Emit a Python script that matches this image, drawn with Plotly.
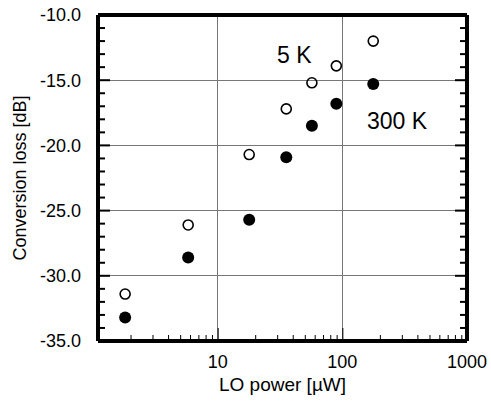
import plotly.graph_objects as go

lo_power = [1.81, 5.8, 17.9, 35.5, 57, 89.5, 177]
loss_5k = [-31.4, -26.1, -20.7, -17.2, -15.2, -13.9, -12.0]
loss_300k = [-33.2, -28.6, -25.7, -20.9, -18.5, -16.8, -15.3]
y_ticks = [-35, -30, -25, -20, -15, -10]
y_minor = [v for v in range(-34, -10) if v % 5 != 0]
x_ticks = [10, 100, 1000]
x_minor = [m * d for d in (1, 10, 100) for m in range(2, 10)]

font_family = "Liberation Sans, Arial, sans-serif"

fig = go.Figure()
fig.add_trace(go.Scatter(
    x=lo_power, y=loss_5k, mode="markers", name="5 K",
    marker=dict(symbol="circle-open", size=10, color="black", line=dict(width=1.6, color="black")),
))
fig.add_trace(go.Scatter(
    x=lo_power, y=loss_300k, mode="markers", name="300 K",
    marker=dict(symbol="circle", size=12, color="black"),
))

fig.add_annotation(x=1.62, y=-13.1, xref="x", yref="y", text="5 K", showarrow=False,
                   font=dict(family=font_family, size=23, color="black"))
fig.add_annotation(x=2.44, y=-18.1, xref="x", yref="y", text="300 K", showarrow=False,
                   font=dict(family=font_family, size=23, color="black"))

bar = dict(type="rect", fillcolor="black", opacity=1, line=dict(width=0), layer="above")

# x-axis ticks (bottom) as thin filled bars placed through the x scale
for v in x_ticks + x_minor:
    ln = 13 if v in x_ticks else 6
    fig.add_shape(xref="x", yref="paper", xsizemode="pixel", xanchor=v, x0=-1, x1=1,
                  ysizemode="pixel", yanchor=0, y0=0, y1=ln, **bar)
# y-axis ticks on left and right
for v in y_minor + y_ticks:
    ln = 12 if v in y_ticks else 7
    fig.add_shape(xref="paper", yref="y", xsizemode="pixel", xanchor=0, x0=0, x1=ln,
                  ysizemode="pixel", yanchor=v, y0=-1, y1=1, **bar)
    fig.add_shape(xref="paper", yref="y", xsizemode="pixel", xanchor=1, x0=-ln, x1=0,
                  ysizemode="pixel", yanchor=v, y0=-1, y1=1, **bar)
# plot frame as four filled bars
fig.add_shape(xref="paper", yref="paper", x0=0, x1=1,
              ysizemode="pixel", yanchor=0, y0=-2, y1=2, **bar)
fig.add_shape(xref="paper", yref="paper", x0=0, x1=1,
              ysizemode="pixel", yanchor=1, y0=-2, y1=2, **bar)
fig.add_shape(xref="paper", yref="paper", y0=0, y1=1,
              xsizemode="pixel", xanchor=0, x0=-2, x1=2, **bar)
fig.add_shape(xref="paper", yref="paper", y0=0, y1=1,
              xsizemode="pixel", xanchor=1, x0=-2, x1=2, **bar)

fig.update_layout(
    template="simple_white",
    width=491, height=405,
    margin=dict(l=98, r=24, t=15, b=64),
    paper_bgcolor="white", plot_bgcolor="white",
    showlegend=False,
    font=dict(family=font_family, size=17, color="black"),
)
fig.update_xaxes(
    type="log", range=[0.04, 3], automargin=False,
    tickmode="array", tickvals=x_ticks, ticktext=[str(v) for v in x_ticks],
    showgrid=True, gridcolor="#777777", gridwidth=1,
    showline=False, ticks="", ticklabelstandoff=8,
    title=dict(text="LO power [µW]", font=dict(size=19), standoff=6),
    tickfont=dict(size=18), zeroline=False,
)
fig.update_yaxes(
    range=[-35, -10], automargin=False,
    tickmode="array", tickvals=y_ticks, ticktext=[f"{v:.1f}" for v in y_ticks],
    showgrid=True, gridcolor="#777777", gridwidth=1,
    showline=False, ticks="", ticklabelstandoff=16,
    title=dict(text="Conversion loss [dB]", font=dict(size=18), standoff=8),
    tickfont=dict(size=18), zeroline=False,
)

fig.write_html("out.html", config={"displayModeBar": False},
               post_script="document.body.style.margin='0';")
